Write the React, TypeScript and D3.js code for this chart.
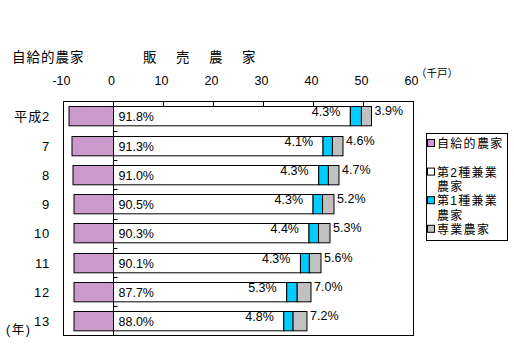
import * as d3 from "d3";

// 農家数（千戸）: 自給的農家は左向き、販売農家は右向きに積み上げ
const years = ["平成2", "7", "8", "9", "10", "11", "12", "13"];
const selfSufficient = [8.9, 8.3, 8.1, 7.9, 7.9, 7.9, 7.9, 7.9];
const salesTotal = [51.6, 45.9, 45.1, 44.1, 43.3, 41.5, 39.5, 38.7];
const secondPct = [91.8, 91.3, 91.0, 90.5, 90.3, 90.1, 87.7, 88.0];
const firstPct = [4.3, 4.1, 4.3, 4.3, 4.4, 4.3, 5.3, 4.8];
const fullPct = [3.9, 4.6, 4.7, 5.2, 5.3, 5.6, 7.0, 7.2];
const xTicks = [-10, 0, 10, 20, 30, 40, 50, 60];

const legendItems = [
  { lines: ["自給的農家", ""], color: "#CC99CC" },
  { lines: ["第2種兼業", "農家"], color: "#FFFFFF" },
  { lines: ["第1種兼業", "農家"], color: "#00CCFF" },
  { lines: ["専業農家"], color: "#C0C0C0" },
];

const W = 514;
const H = 358;
const font = "'Liberation Sans', 'Noto Sans CJK JP', sans-serif";

export default function App() {
  const x = d3.scaleLinear().domain([-10, 60]).range([63.5, 413.5]);
  const y = d3
    .scaleBand<string>()
    .domain(years)
    .range([101.5, 335.5])
    .paddingInner(0.34)
    .paddingOuter(0.17);
  const bw = y.bandwidth();
  const step = y.step();

  const rows = years.map((yr, i) => {
    const t = salesTotal[i];
    const s2 = (t * secondPct[i]) / 100;
    const s1 = (t * firstPct[i]) / 100;
    const s0 = (t * fullPct[i]) / 100;
    return { yr, i, self: selfSufficient[i], s2, s1, s0 };
  });

  let lineIdx = 0;

  return (
    <svg
      width={W}
      height={H}
      style={{ position: "absolute", left: 0, top: 0, background: "#fff" }}
      fontFamily={font}
    >
      {/* titles */}
      <text x={12} y={62} fontSize={13.5} letterSpacing={1}>
        自給的農家
      </text>
      <text x={143} y={62} fontSize={13.5} letterSpacing={19.5}>
        販売農家
      </text>

      {/* x tick labels */}
      {xTicks.map((v) => (
        <text key={v} x={x(v) - 2} y={85} fontSize={12.5} textAnchor="middle">
          {v < 0 ? `-${Math.abs(v)}` : v}
        </text>
      ))}
      <text x={416} y={77} fontSize={10.5}>
        （千戸）
      </text>

      {/* plot area */}
      <rect
        x={x(-10)}
        y={101.5}
        width={x(60) - x(-10)}
        height={234}
        fill="#fff"
        stroke="#000"
      />
      {/* top ticks */}
      {xTicks.map((v) => (
        <line key={v} x1={x(v)} x2={x(v)} y1={101.5} y2={107.5} stroke="#000" />
      ))}
      {/* zero line */}
      <line x1={x(0)} x2={x(0)} y1={101.5} y2={335.5} stroke="#000" />
      {/* category ticks */}
      {years.slice(1).map((yr) => {
        const yy = Math.round((y(yr) as number) - (step - bw) / 2) + 0.5;
        return <line key={yr} x1={x(0)} x2={x(0) + 4} y1={yy} y2={yy} stroke="#000" />;
      })}

      {rows.map((r) => {
        const top = Math.round(y(r.yr) as number) + 0.5;
        const cy = top + bw / 2;
        const x0 = x(0);
        const x2 = x(r.s2);
        const x1 = x(r.s2 + r.s1);
        const xe = x(r.s2 + r.s1 + r.s0);
        return (
          <g key={r.yr}>
            <rect x={x(-r.self)} y={top} width={x0 - x(-r.self)} height={bw} fill="#CC99CC" stroke="#000" />
            <rect x={x0} y={top} width={x2 - x0} height={bw} fill="#fff" stroke="#000" />
            <rect x={x2} y={top} width={x1 - x2} height={bw} fill="#00CCFF" stroke="#000" />
            <rect x={x1} y={top} width={xe - x1} height={bw} fill="#C0C0C0" stroke="#000" />
            <text x={x0 + 5} y={cy + 5} fontSize={12.5}>
              {secondPct[r.i].toFixed(1)}%
            </text>
            <text x={x2 - 10} y={cy} fontSize={12.5} textAnchor="end">
              {firstPct[r.i].toFixed(1)}%
            </text>
            <text x={xe + 3} y={cy - 1} fontSize={12.5}>
              {fullPct[r.i].toFixed(1)}%
            </text>
            <text x={50} y={cy + 5} fontSize={13} textAnchor="end" letterSpacing={0.8}>
              {r.yr}
            </text>
          </g>
        );
      })}
      <text x={6} y={334} fontSize={12.5} letterSpacing={1.5}>
        (年)
      </text>

      {/* legend */}
      <rect x={426.5} y={133.5} width={81} height={107} fill="#fff" stroke="#000" />
      {legendItems.map((it) => {
        const start = lineIdx;
        lineIdx += it.lines.length;
        const ly = 143 + start * 14.3;
        return (
          <g key={it.lines[0]}>
            <rect x={427.5} y={ly - 3.5} width={7} height={7} fill={it.color} stroke="#000" />
            {it.lines.map((t, k) => (
              <text key={k} x={437} y={ly + 5 + k * 14.3} fontSize={12} letterSpacing={1.3}>
                {t}
              </text>
            ))}
          </g>
        );
      })}
    </svg>
  );
}
